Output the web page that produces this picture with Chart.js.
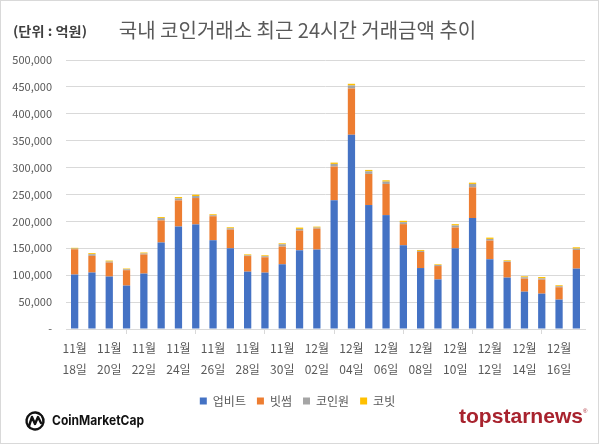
<!DOCTYPE html>
<html>
<head>
<meta charset="utf-8">
<script src="https://cdn.jsdelivr.net/npm/chart.js@4"></script>
<style>
  body { margin: 0; background: #fff; }
  #wrap { width: 600px; height: 445px; position: relative; }
</style>
</head>
<body>
<div id="wrap"><canvas id="myChart"></canvas></div>
<script>
// dates, 11/18 ~ 12/17
const categories = [
  '11월 18일', '11월 19일', '11월 20일', '11월 21일', '11월 22일', '11월 23일', '11월 24일', '11월 25일',
  '11월 26일', '11월 27일', '11월 28일', '11월 29일', '11월 30일', '12월 01일', '12월 02일', '12월 03일',
  '12월 04일', '12월 05일', '12월 06일', '12월 07일', '12월 08일', '12월 09일', '12월 10일', '12월 11일',
  '12월 12일', '12월 13일', '12월 14일', '12월 15일', '12월 16일', '12월 17일'
];
const seriesNames = ['업비트', '빗썸', '코인원', '코빗'];

// values in 억원
const upbit = [101200, 105000, 97500, 80700, 103000, 160800, 190600, 194400, 165000, 150000,
  106600, 104800, 120300, 146300, 147600, 239300, 361100, 230400, 211700, 155700,
  113300, 92100, 150000, 206100, 129600, 95500, 69400, 65700, 54600, 112200];
const bithumb = [47000, 31000, 26000, 28600, 35500, 41000, 48400, 49000, 44600, 34800,
  29000, 28500, 32800, 36600, 39000, 62600, 86000, 57900, 57900, 39200,
  29900, 24900, 38600, 57300, 34700, 29100, 24200, 26000, 23000, 34700];
const coinone = [1200, 3000, 1800, 1700, 1800, 4400, 3800, 3800, 1800, 2400,
  1200, 1900, 4400, 3100, 1900, 4900, 5600, 4900, 4300, 3700,
  1900, 1900, 3800, 6200, 3100, 1300, 2500, 2400, 1900, 2500];
const korbit = [1500, 2000, 1900, 1400, 1900, 1800, 2500, 2400, 1900, 1900,
  1900, 1800, 1800, 2500, 1800, 2500, 3100, 2500, 2500, 2500,
  1800, 1300, 2500, 2400, 2500, 1800, 1900, 2500, 1800, 2500];

const yMax = 500000;
const yStep = 50000;

const KR = "'Noto Sans CJK KR', 'Noto Sans', sans-serif";

// fits text into a given width by squeezing horizontally
function fitText(ctx, text, x, y, width) {
  const w = ctx.measureText(text).width;
  ctx.save();
  ctx.translate(x, y);
  ctx.scale(width / w, 1);
  ctx.fillText(text, 0, 0);
  ctx.restore();
}

const extras = {
  id: 'extras',
  afterDraw(chart) {
    const ctx = chart.ctx;
    ctx.save();

    // frame
    ctx.strokeStyle = '#d9d9d9';
    ctx.lineWidth = 1;
    ctx.strokeRect(0.5, 0.5, 598, 443);

    // unit
    ctx.fillStyle = '#404040';
    ctx.font = 'bold 13px ' + KR;
    ctx.textBaseline = 'middle';
    ctx.textAlign = 'left';
    fitText(ctx, '(단위 : 억원)', 13, 31, 74);

    // CoinMarketCap logo
    ctx.strokeStyle = '#111';
    ctx.lineWidth = 2.4;
    ctx.lineCap = 'round';
    ctx.lineJoin = 'round';
    ctx.beginPath();
    ctx.arc(35, 421, 8.5, -0.2 * Math.PI, 1.75 * Math.PI, false);
    ctx.stroke();
    ctx.beginPath();
    ctx.moveTo(29, 426);
    ctx.lineTo(32, 417);
    ctx.lineTo(35, 424);
    ctx.lineTo(38, 417);
    ctx.lineTo(41, 423);
    ctx.stroke();
    ctx.fillStyle = '#111';
    ctx.font = 'bold 13px Inter, sans-serif';
    fitText(ctx, 'CoinMarketCap', 52, 421, 92);

    // topstarnews logo
    ctx.fillStyle = '#a8232e';
    ctx.font = 'bold 21px "Liberation Sans", Arial, sans-serif';
    ctx.textBaseline = 'alphabetic';
    fitText(ctx, 'topstarnews', 459, 423, 124);
    ctx.font = '6px "Liberation Sans", sans-serif';
    ctx.fillText('®', 583, 413);

    ctx.restore();
  }
};

const ctx = document.getElementById('myChart').getContext('2d');
const colors = ['#4472C4', '#ED7D31', '#A5A5A5', '#FFC000'];
const seriesData = [upbit, bithumb, coinone, korbit];

window.myChart = new Chart(ctx, {
  type: 'bar',
  data: {
    labels: categories,
    datasets: seriesNames.map((name, i) => ({
      label: name,
      data: seriesData[i],
      backgroundColor: colors[i],
      borderWidth: 0,
      barPercentage: 0.42,
      categoryPercentage: 1.0
    }))
  },
  options: {
    responsive: true,
    maintainAspectRatio: false,
    animation: false,
    layout: { padding: { left: 10, right: 15, top: 0, bottom: 28 } },
    plugins: {
      title: {
        display: true,
        text: '국내 코인거래소 최근 24시간 거래금액 추이',
        color: '#595959',
        font: { family: KR, size: 20, weight: 'normal' },
        padding: { top: 18, bottom: 18 }
      },
      legend: {
        position: 'bottom',
        labels: {
          boxWidth: 7,
          boxHeight: 7,
          padding: 11,
          color: '#595959',
          font: { family: KR, size: 12 }
        }
      },
      tooltip: { enabled: false }
    },
    scales: {
      x: {
        stacked: true,
        grid: {
          offset: true,
          drawOnChartArea: false,
          drawTicks: true,
          tickLength: 5,
          color: c => (c.index % 2 === 0 ? '#d9d9d9' : 'rgba(0,0,0,0)')
        },
        border: { display: true, color: '#d9d9d9' },
        ticks: {
          autoSkip: false,
          maxRotation: 0,
          padding: 4,
          color: '#595959',
          font: { family: KR, size: 12, lineHeight: 1.75 },
          callback: function (value, index) {
            return index % 2 === 0 ? categories[index].split(' ') : null;
          }
        }
      },
      y: {
        stacked: true,
        min: 0,
        max: yMax,
        afterFit: scale => { scale.width = 56; },
        grid: { color: '#d9d9d9', drawTicks: false },
        border: { display: false },
        ticks: {
          stepSize: yStep,
          padding: 14,
          color: '#595959',
          font: { family: KR, size: 11 },
          callback: v => (v === 0 ? '-' : v.toLocaleString('en-US'))
        }
      }
    }
  },
  plugins: [extras]
});
</script>
</body>
</html>
